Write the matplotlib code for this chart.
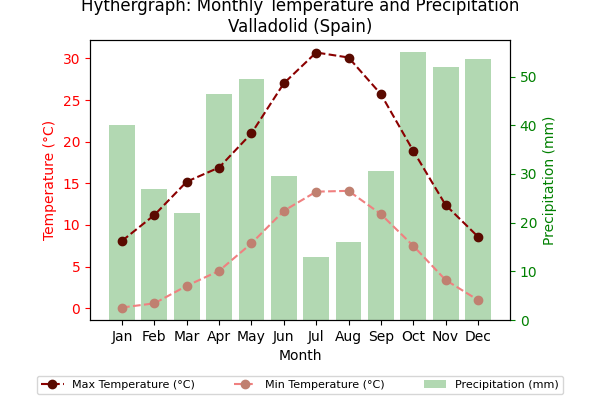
import matplotlib.pyplot as plt

months = ["Jan", "Feb", "Mar", "Apr", "May", "Jun", "Jul", "Aug", "Sep", "Oct", "Nov", "Dec"]
max_temp = [8.1, 11.2, 15.2, 16.9, 21.0, 27.0, 30.7, 30.1, 25.7, 18.9, 12.4, 8.6]
min_temp = [0.1, 0.6, 2.7, 4.5, 7.8, 11.7, 14.0, 14.1, 11.3, 7.5, 3.4, 1.0]
precip = [40, 27, 22, 46.5, 49.5, 29.5, 13, 16, 30.5, 55, 52, 53.5]

fig, ax = plt.subplots(figsize=(6, 4), dpi=100)
ax2 = ax.twinx()

bars = ax2.bar(months, precip, color="green", alpha=0.3, label="Precipitation (mm)")
ax2.set_ylabel("Precipitation (mm)", color="green")
ax2.tick_params(axis="y", colors="green")
ax2.set_ylim(0, 57.5)

l1, = ax.plot(months, max_temp, "o--", color="darkred", markerfacecolor="#5a0a00",
              markeredgecolor="#5a0a00", label="Max Temperature (°C)")
l2, = ax.plot(months, min_temp, "o--", color="lightcoral", markerfacecolor="#c08070",
              markeredgecolor="#c08070", label="Min Temperature (°C)")
ax.set_zorder(ax2.get_zorder() + 1)
ax.patch.set_visible(False)
ax.set_ylim(-1.4, 32.2)
ax.set_xlabel("Month")
ax.set_ylabel("Temperature (°C)", color="red")
ax.tick_params(axis="y", colors="red")
ax.set_title("Hythergraph: Monthly Temperature and Precipitation\nValladolid (Spain)")

fig.legend([l1, l2, bars], [l1.get_label(), l2.get_label(), bars.get_label()],
           loc="lower center", ncol=3, fontsize=8, bbox_to_anchor=(0.5, 0.0),
           columnspacing=3.5)
fig.subplots_adjust(left=0.15, right=0.85, top=0.9, bottom=0.2)
fig.savefig("out.png")
